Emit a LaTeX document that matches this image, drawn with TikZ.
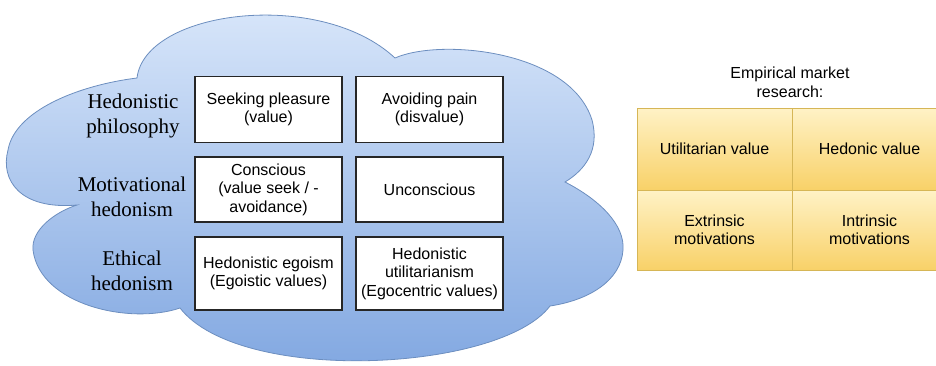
\documentclass[tikz,border=0pt]{standalone}
\usepackage{fontspec}
\setmainfont{Liberation Sans}
\newfontfamily\seriffont{Liberation Serif}
\definecolor{cloudtop}{HTML}{DCE9FB}
\definecolor{cloudbot}{HTML}{7EA5E0}
\definecolor{cloudline}{HTML}{6C8EBF}
\definecolor{celltop}{HTML}{FFF2C6}
\definecolor{cellbot}{HTML}{F8D168}
\definecolor{cellline}{HTML}{D6B656}
\begin{document}
\begin{tikzpicture}[x=1pt,y=-1pt,
  box/.style={draw=black!85, line width=1.1pt, fill=white, minimum width=147pt,
    align=center, inner sep=0pt, font=\fontsize{16}{18.5}\selectfont},
  lbl/.style={align=center, inner sep=0pt, font=\seriffont\fontsize{21}{25}\selectfont},
  cell/.style={draw=cellline, line width=0.8pt, top color=celltop, bottom color=cellbot,
    minimum width=155pt, align=center, inner sep=0pt, font=\fontsize{16}{18.5}\selectfont},
  ttl/.style={align=center, inner sep=0pt, font=\fontsize{16}{19}\selectfont}]
\useasboundingbox (0,0) rectangle (936,365);
\begin{scope}
\clip (0,0) rectangle (936,365);
% cloud
\path[draw=cloudline, line width=0.8pt, top color=cloudtop, bottom color=cloudbot]
  (137,78) .. controls (145,10) and (320,-12) .. (395,58)
  .. controls (440,38) and (570,50) .. (592,120)
  .. controls (600,150) and (585,170) .. (565,182)
  .. controls (600,200) and (625,225) .. (623,250)
  .. controls (621,280) and (590,300) .. (550,306)
  .. controls (500,372) and (240,385) .. (180,308)
  .. controls (130,325) and (40,305) .. (33,250)
  .. controls (31,230) and (55,212) .. (77,205)
  .. controls (20,210) and (0,180) .. (8,150)
  .. controls (15,110) and (80,85) .. (137,78) -- cycle;
% row labels
\node[lbl] (l1) at (133,116) {Hedonistic\\philosophy};
\node[lbl] (l2) at (132,197) {Motivational\\hedonism};
\node[lbl] (l3) at (132,271) {Ethical\\hedonism};
% boxes
\node[box, minimum height=66pt] (b11) at (268.5,109.5) {Seeking pleasure\\(value)};
\node[box, minimum height=66pt] (b12) at (429.5,109.5) {Avoiding pain\\(disvalue)};
\node[box, minimum height=65pt] (b21) at (268.5,189.5) {Conscious\\(value seek / -\\avoidance)};
\node[box, minimum height=65pt] (b22) at (429.5,189.5) {Unconscious};
\node[box, minimum height=73pt] (b31) at (268.5,273.5) {Hedonistic egoism\\(Egoistic values)};
\node[box, minimum height=73pt] (b32) at (429.5,273.5) {Hedonistic\\utilitarianism\\(Egocentric values)};
% right grid
\node[ttl] (t) at (790,82) {Empirical market\\research:};
\node[cell, minimum height=82pt] (c11) at (714.5,149) {Utilitarian value};
\node[cell, minimum height=82pt] (c12) at (869.5,149) {Hedonic value};
\node[cell, minimum height=80pt] (c21) at (714.5,230) {Extrinsic\\motivations};
\node[cell, minimum height=80pt] (c22) at (869.5,230) {Intrinsic\\motivations};
\end{scope}
\end{tikzpicture}
\end{document}
